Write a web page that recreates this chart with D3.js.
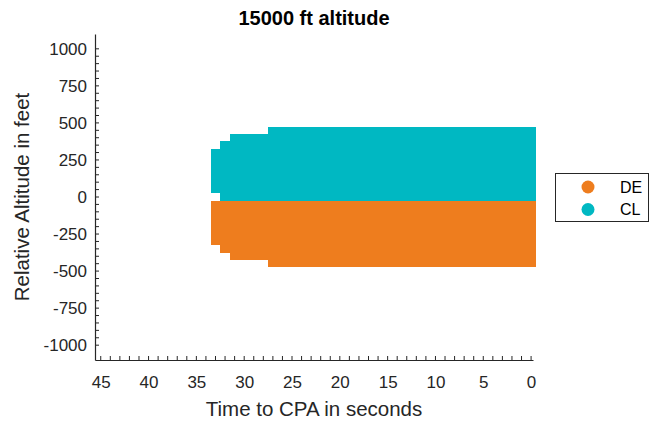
<!DOCTYPE html>
<html>
<head>
<meta charset="utf-8">
<script src="https://cdn.jsdelivr.net/npm/d3@7"></script>
<style>
  html, body { margin: 0; padding: 0; background: #fff; }
  svg { display: block; font-family: "Liberation Sans", Arial, Helvetica, sans-serif; }
</style>
</head>
<body>
<svg id="chart" width="658" height="421"></svg>
<script>
// Seconds before closest point of approach, one column per second
const timeSec = [33, 32, 31, 30, 29, 28, 27, 26, 25, 24, 23, 22, 21, 20, 19, 18, 17,
                 16, 15, 14, 13, 12, 11, 10, 9, 8, 7, 6, 5, 4, 3, 2, 1, 0];

// CL (climb) altitude band per column, feet (grid step 50 ft)
const clLow  = [50, 0, 0, 0, 0, 0, 0, 0, 0, 0, 0, 0, 0, 0, 0, 0, 0,
                0, 0, 0, 0, 0, 0, 0, 0, 0, 0, 0, 0, 0, 0, 0, 0, 0];
const clHigh = [300, 350, 400, 400, 400, 400, 450, 450, 450, 450, 450, 450, 450, 450, 450, 450, 450,
                450, 450, 450, 450, 450, 450, 450, 450, 450, 450, 450, 450, 450, 450, 450, 450, 450];

// DE (descend) altitude band per column, feet
const deLow  = [-300, -350, -400, -400, -400, -400, -450, -450, -450, -450, -450, -450, -450, -450, -450, -450, -450,
                -450, -450, -450, -450, -450, -450, -450, -450, -450, -450, -450, -450, -450, -450, -450, -450, -450];
const deHigh = [-50, 0, 0, 0, 0, 0, 0, 0, 0, 0, 0, 0, 0, 0, 0, 0, 0,
                0, 0, 0, 0, 0, 0, 0, 0, 0, 0, 0, 0, 0, 0, 0, 0, 0];

const seriesNames = ["DE", "CL"];
const seriesColors = ["#EE7D1E", "#00B8C2"];

const xTickValues = [45, 40, 35, 30, 25, 20, 15, 10, 5, 0];
const yTickValues = [1000, 750, 500, 250, 0, -250, -500, -750, -1000];

const titleText = "15000 ft altitude";
const xLabelText = "Time to CPA in seconds";
const yLabelText = "Relative Altitude in feet";

// Each grid point is a marker one second wide and 50 ft tall
const halfT = 0.5, halfA = 25;

const svg = d3.select("#chart");
const axisColor = "#262626";

const x = d3.scaleLinear().domain([45.6, -0.2]).range([95, 533]);
const y = d3.scaleLinear().domain([-1100, 1100]).range([360, 34]);

// Plain integer labels with an ASCII hyphen for negatives
const plainNum = d => String(d);

// Bands: DE first, CL on top
const bands = [
  { name: "DE", color: seriesColors[0], low: deLow, high: deHigh },
  { name: "CL", color: seriesColors[1], low: clLow, high: clHigh }
];

const plot = svg.append("g");
bands.forEach(b => {
  plot.append("g")
    .selectAll("rect")
    .data(timeSec.map((t, i) => ({ t, lo: b.low[i], hi: b.high[i] })))
    .join("rect")
    .attr("x", d => x(d.t + halfT))
    .attr("width", d => x(d.t - halfT) - x(d.t + halfT))
    .attr("y", d => y(d.hi + halfA))
    .attr("height", d => y(d.lo - halfA) - y(d.hi + halfA))
    .attr("fill", b.color)
    .attr("shape-rendering", "crispEdges");
});

// Minor ticks (inward)
const xMinor = d3.range(0, 46, 1);
const yMinor = d3.range(-1000, 1001, 50);

svg.append("g")
  .selectAll("line")
  .data(xMinor)
  .join("line")
  .attr("x1", d => x(d)).attr("x2", d => x(d))
  .attr("y1", 360).attr("y2", 356)
  .attr("stroke", axisColor).attr("stroke-width", 1);

svg.append("g")
  .selectAll("line")
  .data(yMinor)
  .join("line")
  .attr("y1", d => y(d)).attr("y2", d => y(d))
  .attr("x1", 95).attr("x2", 99)
  .attr("stroke", axisColor).attr("stroke-width", 1);

// Axis lines and labels via d3 axes
const xAxis = svg.append("g")
  .attr("transform", "translate(0,360)")
  .call(d3.axisBottom(x).tickValues(xTickValues).tickFormat(plainNum).tickSize(0).tickPadding(16));
const yAxis = svg.append("g")
  .attr("transform", "translate(95,0)")
  .call(d3.axisLeft(y).tickValues(yTickValues).tickFormat(plainNum).tickSize(0).tickPadding(8));

[xAxis, yAxis].forEach(g => {
  g.select(".domain").attr("stroke", axisColor).attr("stroke-width", 1.2);
  g.selectAll("text")
    .attr("fill", axisColor)
    .style("font-size", "17px")
    .style("font-family", "'Liberation Sans', Arial, sans-serif");
});
xAxis.selectAll("text").attr("dy", "0.71em");

// Title
svg.append("text")
  .attr("x", 314).attr("y", 25)
  .attr("text-anchor", "middle")
  .style("font-size", "20px").style("font-weight", "bold")
  .attr("fill", "#000")
  .text(titleText);

// Axis titles
svg.append("text")
  .attr("x", 314).attr("y", 416)
  .attr("text-anchor", "middle")
  .style("font-size", "20.5px")
  .attr("fill", axisColor)
  .text(xLabelText);

svg.append("text")
  .attr("transform", "translate(29,197) rotate(-90)")
  .attr("text-anchor", "middle")
  .style("font-size", "20.5px")
  .attr("fill", axisColor)
  .text(yLabelText);

// Legend
const legend = svg.append("g");
legend.append("rect")
  .attr("x", 555.5).attr("y", 173.5)
  .attr("width", 93).attr("height", 48)
  .attr("fill", "#fff").attr("stroke", axisColor).attr("stroke-width", 1);
seriesNames.forEach((name, i) => {
  const cy = 187 + i * 22.5;
  legend.append("circle")
    .attr("cx", 588).attr("cy", cy).attr("r", 6.5)
    .attr("fill", seriesColors[i]);
  legend.append("text")
    .attr("x", 620).attr("y", cy + 5.5)
    .style("font-size", "16px")
    .attr("fill", "#000")
    .text(name);
});
</script>
</body>
</html>
